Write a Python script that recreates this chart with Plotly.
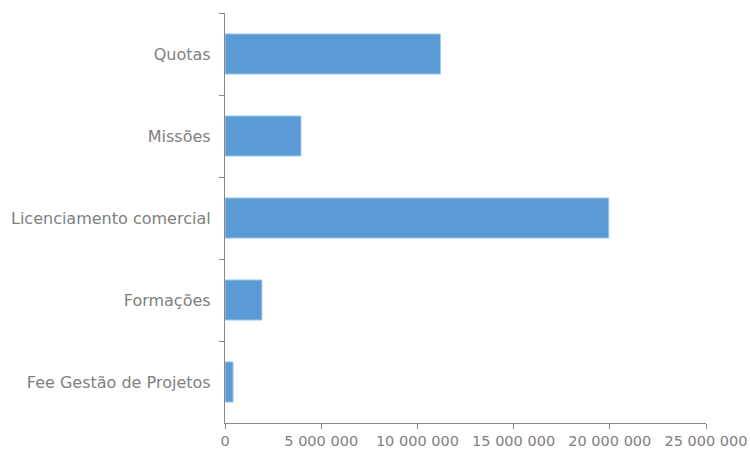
import plotly.graph_objects as go

categories = ["Quotas", "Missões", "Licenciamento comercial", "Formações", "Fee Gestão de Projetos"]
values = [11200000, 3950000, 19950000, 1920000, 420000]
x_ticks = [0, 5000000, 10000000, 15000000, 20000000, 25000000]

fig = go.Figure(
    go.Bar(
        x=values,
        y=categories,
        orientation="h",
        width=0.49,
        marker=dict(color="#5B9BD5", line=dict(color="#A9CCEC", width=1)),
    )
)

x_font = dict(family="DejaVu Sans, sans-serif", size=14.5, color="#808080")
y_font = dict(family="DejaVu Sans, sans-serif", size=16, color="#808080")

fig.update_layout(
    width=750,
    height=450,
    margin=dict(l=225, r=44, t=13, b=27),
    paper_bgcolor="white",
    plot_bgcolor="white",
    separators=", ",
    showlegend=False,
    font=x_font,
    xaxis=dict(
        range=[0, 25000000],
        tickvals=x_ticks,
        tickformat=",d",
        showgrid=False,
        zeroline=False,
        showline=True,
        linecolor="#888888",
        linewidth=1,
        ticks="outside",
        ticklen=5,
        tickcolor="#888888",
        tickfont=x_font,
        automargin=False,
    ),
    yaxis=dict(
        categoryorder="array",
        categoryarray=categories,
        autorange="reversed",
        showgrid=False,
        showline=True,
        linecolor="#888888",
        linewidth=1,
        ticks="outside",
        tickson="boundaries",
        ticklen=5,
        tickcolor="#888888",
        tickfont=y_font,
        ticksuffix="  ",
        automargin=False,
    ),
)

fig.write_html("out.html")
